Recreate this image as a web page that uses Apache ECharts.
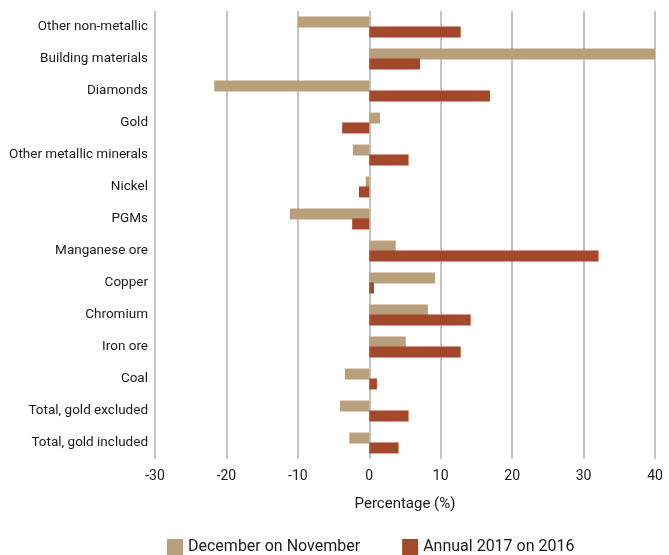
<!DOCTYPE html>
<html><head><meta charset="utf-8">
<script src="https://cdn.jsdelivr.net/npm/echarts@6/dist/echarts.min.js"></script>
<style>html,body{margin:0;padding:0;background:#fff}#c{width:669px;height:555px}</style>
</head><body><div id="c"></div>
<script>
const categories = ["Other non-metallic","Building materials","Diamonds","Gold","Other metallic minerals","Nickel","PGMs","Manganese ore","Copper","Chromium","Iron ore","Coal","Total, gold excluded","Total, gold included"];
const decOnNov = [-10, 40, -21.7, 1.5, -2.3, -0.5, -11.1, 3.7, 9.2, 8.2, 5.1, -3.4, -4.1, -2.8];
const annual2017 = [12.8, 7.1, 16.9, -3.8, 5.5, -1.45, -2.4, 32.1, 0.65, 14.2, 12.8, 1.07, 5.5, 4.1];
const xTicks = {min: -30, max: 40, interval: 10};

const chart = echarts.init(document.getElementById('c'));
const font = 'Roboto';
chart.setOption({
  animation: false,
  textStyle: {fontFamily: font},
  grid: {left: 155, right: 14, top: 11, bottom: 96},
  legend: {
    bottom: -5, left: 162, itemGap: 42, itemWidth: 16, itemHeight: 16,
    icon: 'rect',
    textStyle: {fontFamily: font, fontSize: 16, color: '#1a1a1a'},
    data: ['December on November', 'Annual 2017 on 2016']
  },
  xAxis: {
    type: 'value', min: xTicks.min, max: xTicks.max, interval: xTicks.interval,
    name: 'Percentage (%)', nameLocation: 'middle', nameGap: 38,
    nameTextStyle: {fontFamily: font, fontSize: 15, color: '#1a1a1a'},
    axisLine: {show: false}, axisTick: {show: false},
    axisLabel: {fontFamily: font, fontSize: 14, color: '#1a1a1a', margin: 10},
    splitLine: {show: true, lineStyle: {color: '#b3b1a8', width: 1.5}}
  },
  yAxis: {
    type: 'category', data: categories, inverse: true,
    axisLine: {show: false}, axisTick: {show: false},
    axisLabel: {fontFamily: font, fontSize: 13.5, color: '#1a1a1a', margin: 7, padding: [8, 0, 0, 0]}
  },
  series: [
    {name: 'December on November', type: 'bar', data: decOnNov, barWidth: 11, barGap: '-10%',
     itemStyle: {color: '#b9a07c'}},
    {name: 'Annual 2017 on 2016', type: 'bar', data: annual2017, barWidth: 11, barGap: '-10%',
     itemStyle: {color: '#a34828'}}
  ]
});
</script></body></html>
